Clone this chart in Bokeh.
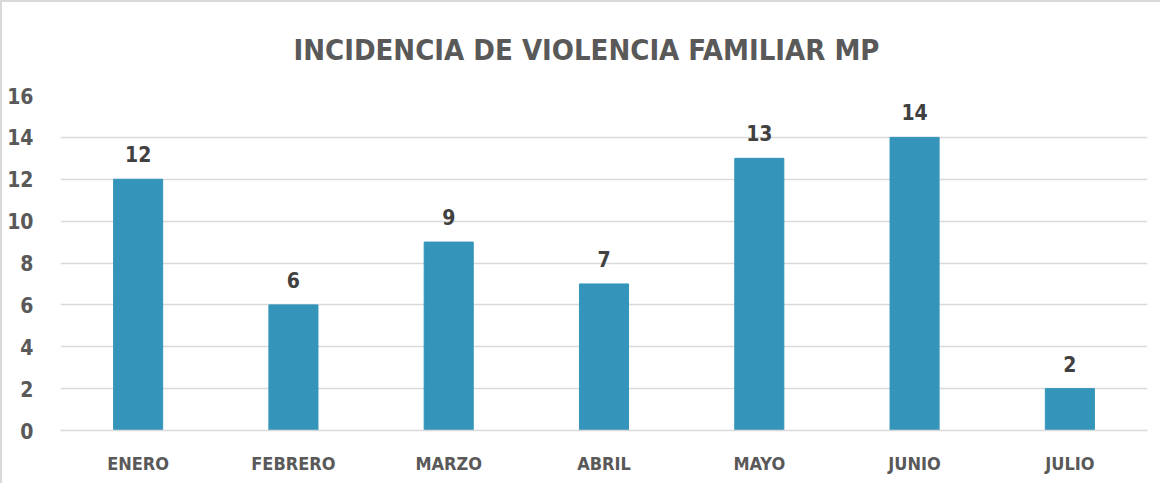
from bokeh.plotting import figure
from bokeh.models import ColumnDataSource, FixedTicker, LabelSet
from bokeh.core.properties import value
from bokeh.embed import file_html
from bokeh.resources import INLINE

months = ["ENERO", "FEBRERO", "MARZO", "ABRIL", "MAYO", "JUNIO", "JULIO"]
values = [12, 6, 9, 7, 13, 14, 2]
y_ticks = [0, 2, 4, 6, 8, 10, 12, 14, 16]
title_text = "INCIDENCIA DE VIOLENCIA FAMILIAR MP"

FONT = "DejaVu Sans Condensed"

src = ColumnDataSource(dict(m=months, v=values, t=[str(v) for v in values]))

p = figure(x_range=months, y_range=(0, 16), width=1160, height=483,
           output_backend="svg", toolbar_location=None,
           min_border_left=60, min_border_right=13, min_border_top=95, min_border_bottom=53)

p.title.text = title_text
p.title.align = "left"
p.title.offset = 233
p.title.standoff = 58
p.title.text_font = FONT
p.title.text_font_style = "bold"
p.title.text_font_size = "29px"
p.title.text_color = "#595959"

p.vbar(x="m", top="v", width=0.316, source=src, color="#3494BA", line_color="#3494BA")

labels = LabelSet(x="m", y="v", text="t", source=src, text_align="center",
                  text_baseline="bottom", y_offset=17, text_font=value(FONT),
                  text_font_style="bold", text_font_size="21px", text_color="#404040")
p.add_layout(labels)

p.xgrid.grid_line_color = None
p.ygrid.grid_line_color = "#d9d9d9"
p.ygrid.grid_line_width = 1.5
p.yaxis.ticker = FixedTicker(ticks=y_ticks)

for ax in (p.xaxis, p.yaxis):
    ax.major_tick_line_color = None
    ax.minor_tick_line_color = None
    ax.major_label_text_font = FONT
    ax.major_label_text_font_style = "bold"
    ax.major_label_text_color = "#595959"

p.yaxis.axis_line_color = None
p.yaxis.major_label_text_font_size = "21px"
p.yaxis.major_label_standoff = 21
p.xaxis.axis_line_color = "#d9d9d9"
p.xaxis.axis_line_width = 1.5
p.xaxis.major_label_text_font_size = "18px"
p.xaxis.major_label_standoff = 16
p.outline_line_color = None
p.border_fill_color = None
p.styles = {"background-color": "white", "box-shadow": "inset 2px 2px 0 0 #d9d9d9"}

open("out.html", "w").write(file_html(p, INLINE))
